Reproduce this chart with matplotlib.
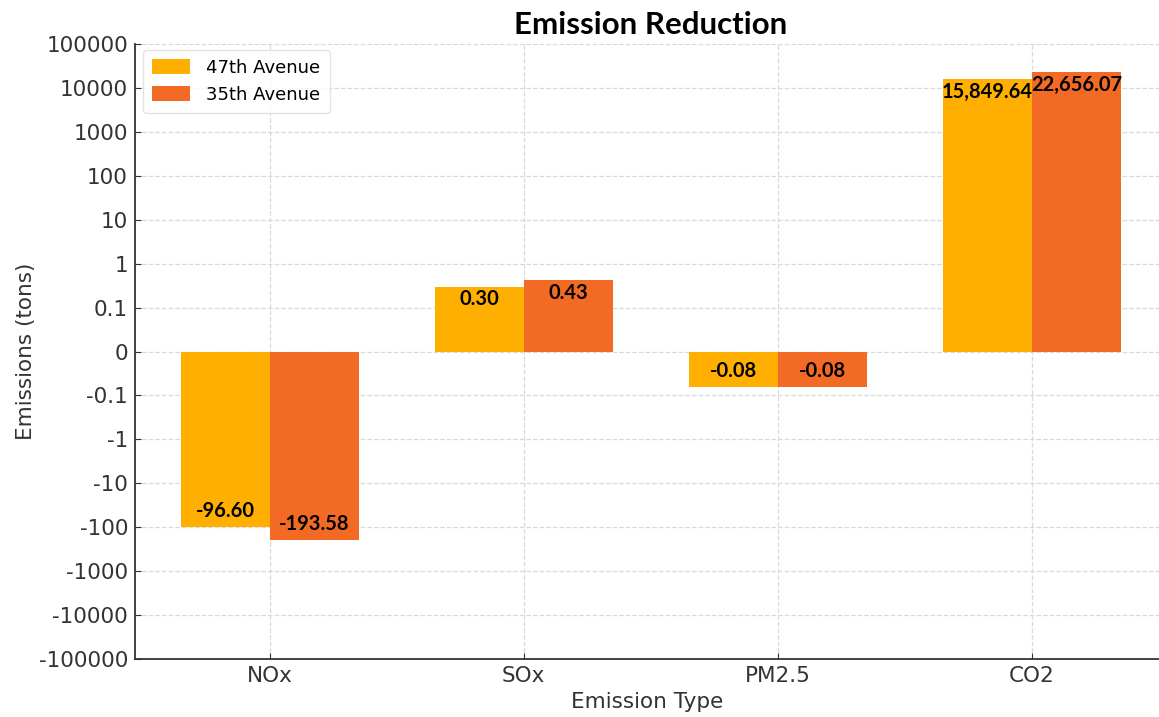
import matplotlib.pyplot as plt
import numpy as np

categories = ['NOx', 'SOx', 'PM2.5', 'CO2']
ave47 = [-96.60, 0.30, -0.08, 15849.64]
ave35 = [-193.58, 0.43, -0.08, 22656.07]
series_names = ['47th Avenue', '35th Avenue']
tick_vals = [100000, 10000, 1000, 100, 10, 1, 0.1, 0, -0.1, -1, -10, -100, -1000, -10000, -100000]
tick_labels = ['100000', '10000', '1000', '100', '10', '1', '0.1', '0',
               '-0.1', '-1', '-10', '-100', '-1000', '-10000', '-100000']

c47 = '#FFAF00'
c35 = '#F26A24'

fig = plt.figure(figsize=(11.59, 7.17), dpi=100)
ax = fig.add_axes([135/1159, 1 - 659/717, 1024/1159, (659-44)/717])

x = np.arange(len(categories))
w = 0.35
b1 = ax.bar(x - w/2, ave47, w, color=c47, label=series_names[0], zorder=2)
b2 = ax.bar(x + w/2, ave35, w, color=c35, label=series_names[1], zorder=2)

# symlog: linear part 0..0.1 takes the same room as one decade
ax.set_yscale('symlog', linthresh=0.1, linscale=0.9)
ax.set_ylim(-100000, 100000)
ax.set_yticks(tick_vals)
ax.set_yticklabels(tick_labels)
ax.yaxis.set_minor_locator(plt.NullLocator())
ax.set_xlim(-0.53, 3.5)
ax.set_xticks(x)
ax.set_xticklabels(categories)

for bars, vals in [(b1, ave47), (b2, ave35)]:
    for bar, v in zip(bars, vals):
        cx = bar.get_x() + bar.get_width()/2
        txt = f'{v:,.2f}'
        if v >= 0:
            ax.annotate(txt, (cx, v), xytext=(0, -2), textcoords='offset points',
                        ha='center', va='top', fontsize=14.5, fontweight='bold',
                        family='Lato', color='black', zorder=3)
        else:
            ax.annotate(txt, (cx, v), xytext=(0, 4), textcoords='offset points',
                        ha='center', va='bottom', fontsize=14.5, fontweight='bold',
                        family='Lato', color='black', zorder=3)

ax.grid(True, linestyle='--', color='#d9d9d9', linewidth=0.9, zorder=0)
ax.set_axisbelow(True)
ax.spines['top'].set_visible(False)
ax.spines['right'].set_visible(False)
ax.spines['left'].set_color('#333333')
ax.spines['bottom'].set_color('#333333')
ax.spines['left'].set_linewidth(1.3)
ax.spines['bottom'].set_linewidth(1.3)
ax.tick_params(direction='in', length=4, labelsize=15.5, colors='#333333', pad=5)

ax.set_xlabel('Emission Type', fontsize=15.5, color='#333333', labelpad=4)
ax.set_ylabel('Emissions (tons)', fontsize=15.5, color='#333333', labelpad=2)
fig.text(0.561, 0.965, 'Emission Reduction', ha='center', va='center',
         fontsize=22.5, fontweight='bold', family='Lato')

ax.legend(loc='upper left', fontsize=13, frameon=True, edgecolor='#dddddd',
          handlelength=2.1, handleheight=0.9, borderpad=0.5, borderaxespad=0,
          handletextpad=0.9, bbox_to_anchor=(0.008, 0.99))

fig.savefig('out.png', dpi=100)
